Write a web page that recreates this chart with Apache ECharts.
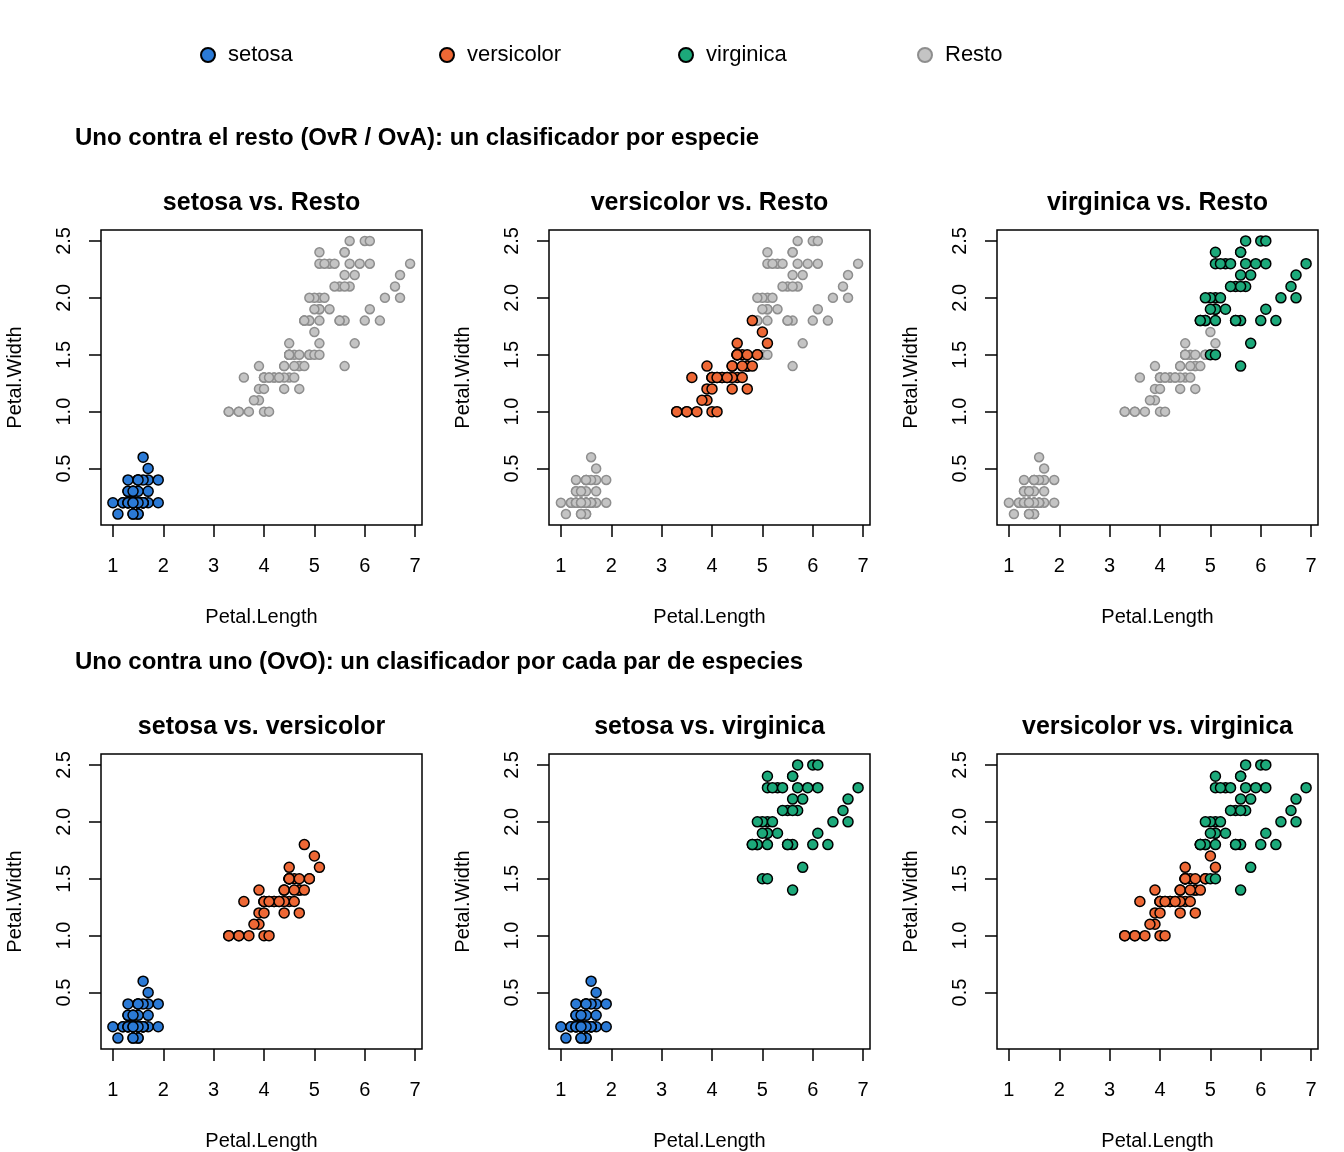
<!DOCTYPE html>
<html>
<head>
<meta charset="utf-8">
<script src="https://cdn.jsdelivr.net/npm/echarts@6/dist/echarts.min.js"></script>
<style>
  html, body { margin: 0; padding: 0; background: #fff; }
  #main { width: 1344px; height: 1152px; }
</style>
</head>
<body>
<div id="main"></div>
<script>
// Petal.Length, Petal.Width pairs
var setosa = [
  [1.4,0.2],[1.4,0.2],[1.3,0.2],[1.5,0.2],[1.4,0.2],[1.7,0.4],[1.4,0.3],[1.5,0.2],[1.4,0.2],[1.5,0.1],
  [1.5,0.2],[1.6,0.2],[1.4,0.1],[1.1,0.1],[1.2,0.2],[1.5,0.4],[1.3,0.4],[1.4,0.3],[1.7,0.3],[1.5,0.3],
  [1.7,0.2],[1.5,0.4],[1.0,0.2],[1.7,0.5],[1.9,0.2],[1.6,0.2],[1.6,0.4],[1.5,0.2],[1.4,0.2],[1.6,0.2],
  [1.6,0.2],[1.5,0.4],[1.5,0.1],[1.4,0.2],[1.5,0.2],[1.2,0.2],[1.3,0.2],[1.4,0.1],[1.3,0.2],[1.5,0.2],
  [1.3,0.3],[1.3,0.3],[1.3,0.2],[1.6,0.6],[1.9,0.4],[1.4,0.3],[1.6,0.2],[1.4,0.2],[1.5,0.2],[1.4,0.2]
];
var versicolor = [
  [4.7,1.4],[4.5,1.5],[4.9,1.5],[4.0,1.3],[4.6,1.5],[4.5,1.3],[3.3,1.0],[4.6,1.3],[3.9,1.4],[3.5,1.0],
  [4.0,1.0],[4.7,1.4],[3.6,1.3],[4.4,1.4],[4.5,1.5],[4.1,1.0],[4.5,1.5],[3.9,1.1],[4.8,1.8],[4.0,1.3],
  [4.9,1.5],[4.7,1.2],[4.3,1.3],[4.4,1.4],[4.8,1.4],[5.0,1.7],[4.5,1.5],[3.5,1.0],[3.8,1.1],[3.7,1.0],
  [3.9,1.2],[5.1,1.6],[4.5,1.5],[4.5,1.6],[4.7,1.5],[4.4,1.3],[4.1,1.3],[4.0,1.3],[4.4,1.2],[4.6,1.4],
  [4.0,1.2],[3.3,1.0],[4.2,1.3],[4.2,1.3],[4.3,1.3],[4.1,1.3]
];
var virginica = [
  [6.0,2.5],[5.1,1.9],[5.6,1.8],[5.8,2.2],[6.6,2.1],[6.3,1.8],[6.1,2.5],[5.1,2.0],[5.3,1.9],[5.5,2.1],
  [5.0,2.0],[5.1,2.4],[5.3,2.3],[5.5,1.8],[6.7,2.2],[6.9,2.3],[5.0,1.5],[5.7,2.3],[4.9,2.0],[6.7,2.0],
  [4.9,1.8],[5.7,2.1],[6.0,1.8],[4.8,1.8],[4.9,1.8],[5.6,2.1],[5.8,1.6],[6.1,1.9],[6.4,2.0],[5.6,2.2],
  [5.1,1.5],[5.6,1.4],[6.1,2.3],[5.6,2.4],[5.5,1.8],[4.8,1.8],[5.4,2.1],[5.6,2.4],[5.1,2.3],[5.1,1.9],
  [5.9,2.3],[5.7,2.5],[5.2,2.3],[5.0,1.9],[5.2,2.0],[5.4,2.3],[5.1,1.8]
];

var xTicks = [1, 2, 3, 4, 5, 6, 7];
var yTicks = [0.5, 1.0, 1.5, 2.0, 2.5];

var colors = { setosa: '#2B7AD6', versicolor: '#EE6835', virginica: '#1CA97A' };
var data = { setosa: setosa, versicolor: versicolor, virginica: virginica };

var panels = [
  { title: 'setosa vs. Resto', rest: ['versicolor', 'virginica'], cls: ['setosa'] },
  { title: 'versicolor vs. Resto', rest: ['setosa', 'virginica'], cls: ['versicolor'] },
  { title: 'virginica vs. Resto', rest: ['setosa', 'versicolor'], cls: ['virginica'] },
  { title: 'setosa vs. versicolor', rest: [], cls: ['setosa', 'versicolor'] },
  { title: 'setosa vs. virginica', rest: [], cls: ['setosa', 'virginica'] },
  { title: 'versicolor vs. virginica', rest: [], cls: ['versicolor', 'virginica'] }
];

var lefts = [101, 549, 997];
var tops = [230, 754];
var gw = 321, gh = 295;
var font = 'Liberation Sans, Arial, sans-serif';

var grids = [], xAxes = [], yAxes = [], series = [], graphics = [];

panels.forEach(function (p, i) {
  var left = lefts[i % 3], top = tops[Math.floor(i / 3)];
  grids.push({ left: left, top: top, width: gw, height: gh, show: true,
    borderColor: '#000', borderWidth: 1.5, backgroundColor: 'transparent' });
  xAxes.push({
    type: 'value', gridIndex: i, min: 0.764, max: 7.136,
    name: 'Petal.Length', nameLocation: 'middle', nameGap: 82,
    nameTextStyle: { fontFamily: font, fontSize: 20, color: '#000' },
    axisLine: { show: false },
    axisTick: { show: true, inside: false, length: 12, customValues: xTicks,
      lineStyle: { color: '#000', width: 1.5 } },
    axisLabel: { customValues: xTicks, margin: 31, fontFamily: font, fontSize: 20, color: '#000' },
    splitLine: { show: false }
  });
  yAxes.push({
    type: 'value', gridIndex: i, min: 0.004, max: 2.596,
    name: 'Petal.Width', nameLocation: 'middle', nameGap: 76, nameRotate: 90,
    nameTextStyle: { fontFamily: font, fontSize: 20, color: '#000' },
    axisLine: { show: false },
    axisTick: { show: true, inside: false, length: 12, customValues: yTicks,
      lineStyle: { color: '#000', width: 1.5 } },
    axisLabel: { customValues: yTicks, rotate: 90, margin: 27, fontFamily: font, fontSize: 20,
      color: '#000', formatter: function (v) { return v.toFixed(1); } },
    splitLine: { show: false }
  });
  p.rest.forEach(function (k) {
    series.push({
      name: 'Resto', type: 'scatter', xAxisIndex: i, yAxisIndex: i,
      symbol: 'circle', symbolSize: 9,
      itemStyle: { color: '#C4C4C4', borderColor: '#8E8E8E', borderWidth: 1.5, opacity: 1 },
      data: data[k]
    });
  });
  p.cls.forEach(function (k) {
    series.push({
      name: k, type: 'scatter', xAxisIndex: i, yAxisIndex: i,
      symbol: 'circle', symbolSize: 10,
      itemStyle: { color: colors[k], borderColor: '#000', borderWidth: 1.5, opacity: 1 },
      data: data[k]
    });
  });
  graphics.push({
    type: 'text', x: left + gw / 2, y: top - 27,
    style: { text: p.title, font: 'bold 25px ' + font, fill: '#000', align: 'center', verticalAlign: 'middle' }
  });
});

graphics.push({
  type: 'text', x: 75, y: 138,
  style: { text: 'Uno contra el resto (OvR / OvA): un clasificador por especie',
    font: 'bold 24px ' + font, fill: '#000', align: 'left', verticalAlign: 'middle' }
});
graphics.push({
  type: 'text', x: 75, y: 662,
  style: { text: 'Uno contra uno (OvO): un clasificador por cada par de especies',
    font: 'bold 24px ' + font, fill: '#000', align: 'left', verticalAlign: 'middle' }
});

var legendNames = ['setosa', 'versicolor', 'virginica', 'Resto'];
var legendLefts = [195, 434, 673, 912];
var legends = legendNames.map(function (n, j) {
  return {
    left: legendLefts[j], top: 39, orient: 'horizontal',
    itemWidth: 14, itemHeight: 14, icon: 'circle',
    data: [n],
    textStyle: { fontFamily: font, fontSize: 22, color: '#000', padding: [2, 0, 0, 8] }
  };
});

var myChart = echarts.init(document.getElementById('main'));
myChart.setOption({
  animation: false,
  backgroundColor: '#fff',
  legend: legends,
  grid: grids,
  xAxis: xAxes,
  yAxis: yAxes,
  series: series,
  graphic: graphics
});
</script>
</body>
</html>
